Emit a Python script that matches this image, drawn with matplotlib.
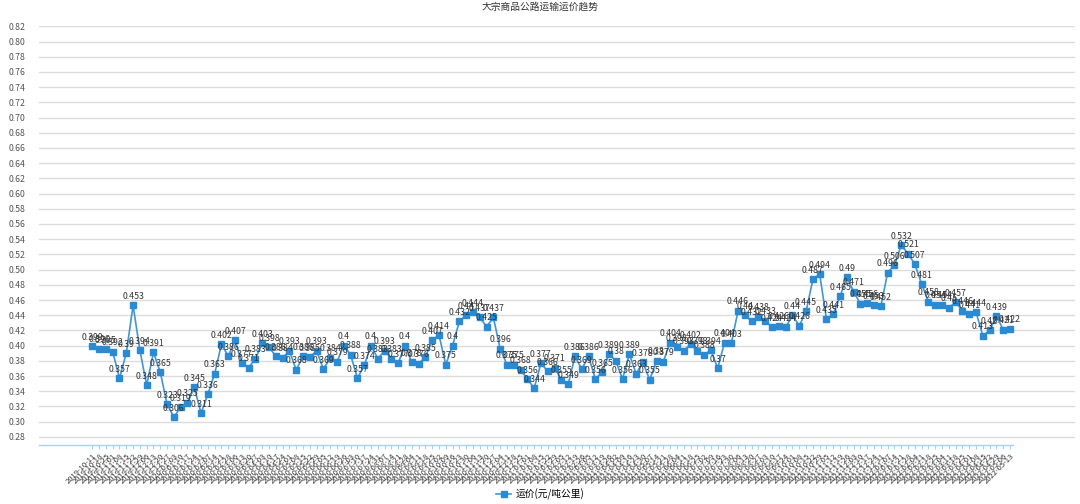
import numpy as np
import pandas as pd
import matplotlib
matplotlib.use('Agg')
import matplotlib.pyplot as plt
from matplotlib.lines import Line2D

plt.rcParams['font.family'] = ['Noto Sans CJK SC', 'DejaVu Sans']

title = '大宗商品公路运输运价趋势'
series_name = '运价(元/吨公里)'

# weekly freight rate
prices = [
    0.399, 0.396, 0.395, 0.392, 0.357, 0.39, 0.453, 0.394, 0.348, 0.391,
    0.365, 0.323, 0.306, 0.319, 0.325, 0.345, 0.311, 0.336, 0.363, 0.402,
    0.386, 0.407, 0.377, 0.371, 0.383, 0.403, 0.398, 0.386, 0.384, 0.393,
    0.368, 0.386, 0.385, 0.393, 0.369, 0.384, 0.379, 0.4, 0.388, 0.357,
    0.374, 0.4, 0.383, 0.393, 0.383, 0.377, 0.4, 0.378, 0.376, 0.385,
    0.407, 0.414, 0.375, 0.4, 0.432, 0.44, 0.444, 0.437, 0.425, 0.437,
    0.396, 0.375, 0.375, 0.368, 0.356, 0.344, 0.377, 0.366, 0.371, 0.355,
    0.349, 0.386, 0.369, 0.386, 0.356, 0.365, 0.389, 0.38, 0.356, 0.389,
    0.363, 0.378, 0.355, 0.38, 0.379, 0.404, 0.398, 0.393, 0.402, 0.393,
    0.388, 0.394, 0.37, 0.404, 0.403, 0.446, 0.44, 0.432, 0.438, 0.433,
    0.424, 0.426, 0.424, 0.44, 0.426, 0.445, 0.487, 0.494, 0.435, 0.441,
    0.465, 0.49, 0.471, 0.455, 0.456, 0.453, 0.452, 0.496, 0.506, 0.532,
    0.521, 0.507, 0.481, 0.458, 0.454, 0.454, 0.45, 0.457, 0.446, 0.441,
    0.444, 0.413, 0.42, 0.439, 0.421, 0.422,
]

# x labels are unreadable in the source (overlapping weekly dates)
dates = pd.date_range('2019-10-11', periods=len(prices), freq='7D').strftime('%Y-%m-%d').tolist()

y_ticks = np.round(np.arange(0.28, 0.821, 0.02), 2)

line_color = '#4296d6'
marker_color = '#2a8ad3'

fig = plt.figure(figsize=(10.8, 5.04), dpi=100)
ax = fig.add_axes([39 / 1080, (504 - 444.8) / 504, (1075 - 39) / 1080, (444.8 - 26) / 504])

x = np.arange(len(prices))
ax.plot(x, prices, color=line_color, lw=1.2, marker='s', ms=3.8,
        mfc=marker_color, mec=marker_color, zorder=3)

for xi, v in zip(x, prices):
    ax.annotate(f'{v:g}', (xi, v), xytext=(0, 3.2), textcoords='offset points',
                ha='center', va='bottom', fontsize=6.3, color='#333333', zorder=4)

ax.set_xlim(-7.84, 144.56)
ax.set_ylim(0.2695, 0.8205)

for t in y_ticks:
    ax.axhline(t, color='#dcdcdc', lw=1, zorder=1)

ax.set_yticks(y_ticks)
ax.set_yticklabels([f'{t:.2f}' for t in y_ticks], fontsize=6.3, color='#555555', ha='left')
ax.tick_params(axis='y', length=0, pad=22)

ax.set_xticks(x)
ax.set_xticklabels(dates, rotation=45, ha='right', rotation_mode='anchor',
                   fontsize=5.5, color='#333333')
ax.tick_params(axis='x', length=3, color='#a9d0ee', pad=2)

for s in ax.spines.values():
    s.set_visible(False)
ax.plot([-7.84, 135.4], [0.2695, 0.2695], color='#a9d0ee', lw=1,
        clip_on=False, zorder=2)

fig.text(0.5, 1 - 7 / 504, title, ha='center', va='center', fontsize=7, color='#333333')

handle = Line2D([0], [0], color=line_color, lw=1.2, marker='s', ms=3.8,
                mfc=marker_color, mec=marker_color)
fig.legend([handle], [series_name], loc='center', bbox_to_anchor=(0.5, 1 - 494 / 504),
           frameon=False, fontsize=7, handlelength=1.6, handletextpad=0.4)

fig.savefig('out.png', dpi=100)
